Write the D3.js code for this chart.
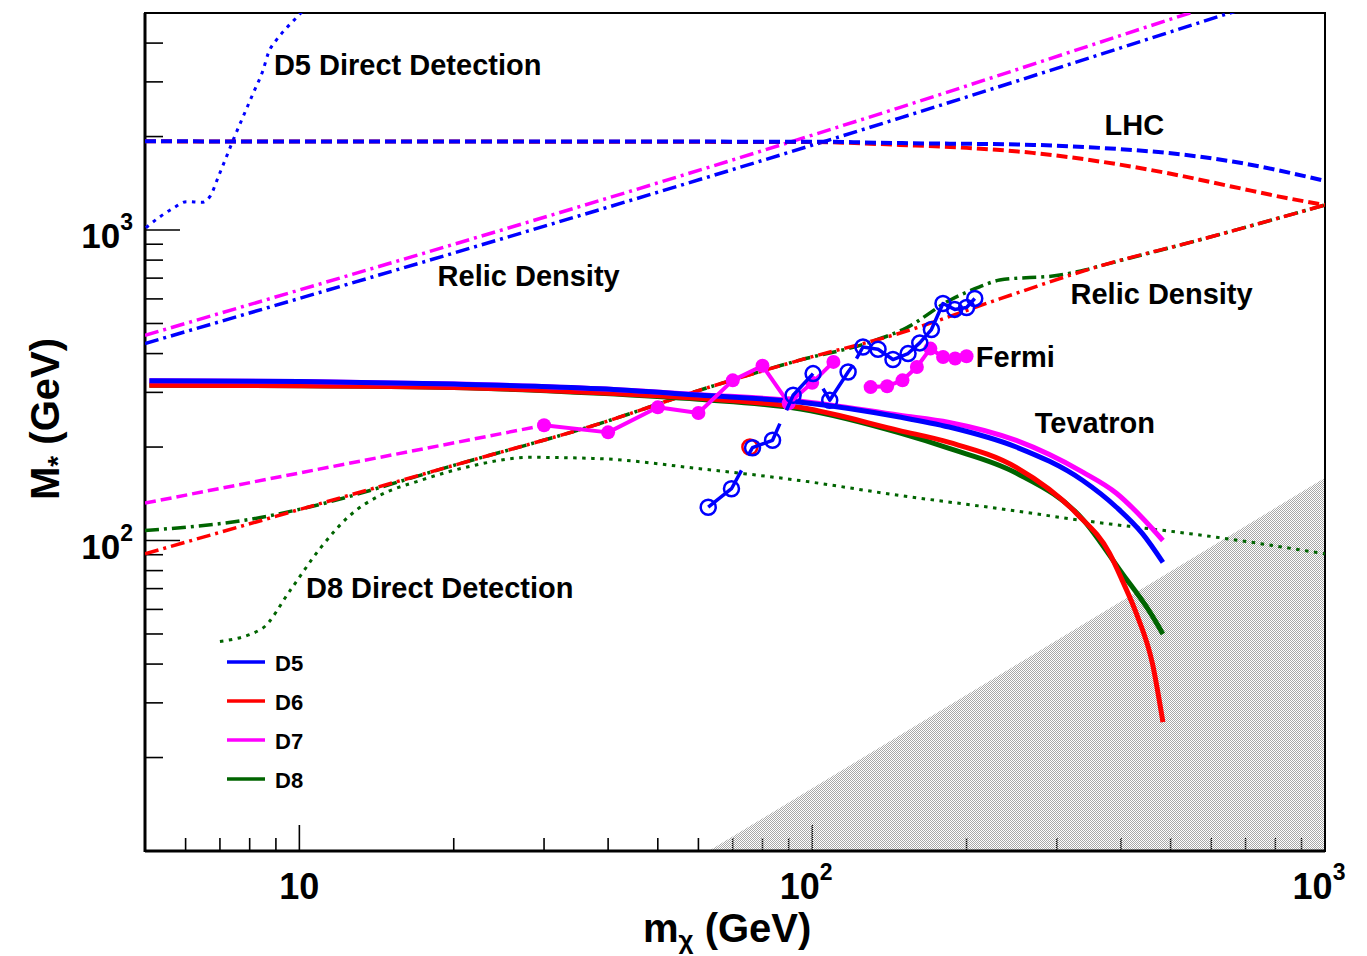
<!DOCTYPE html>
<html>
<head>
<meta charset="utf-8">
<script src="https://cdn.jsdelivr.net/npm/d3@7"></script>
<style>
  body { margin: 0; background: #fff; }
  svg { display: block; }
  text { font-family: "Liberation Sans", Arial, Helvetica, sans-serif; font-weight: bold; fill: #000; }
</style>
</head>
<body>
<svg id="chart" width="1367" height="956"></svg>
<script>
// ---------------- data: dark-matter mass m_chi (GeV) vs. suppression scale M* (GeV) ----------------

// Tevatron bounds (solid)
const tevMassD5 = [5.1, 10, 20, 38.5, 60, 95, 148, 185, 250, 337, 392, 441, 483];
const tevD5     = [327, 325, 319, 308, 294, 279, 250, 232, 200, 156, 128, 105, 85];
const tevD7     = [327, 325, 319, 308, 295, 281, 253, 240, 210, 166, 142, 118, 100];
const tevMassD6 = [5.1, 10, 20, 38.5, 60, 95, 148, 185, 250, 328, 380, 403, 429, 461, 483];
const tevD6     = [316, 315, 311, 299, 287, 268, 226, 207, 172, 122, 91, 74, 58, 40, 26];
const tevMassD8 = [5.1, 10, 20, 38.5, 60, 95, 148, 185, 250, 337, 403, 455, 483];
const tevD8     = [316, 315, 311, 298, 285, 265, 222, 198, 165, 117, 78, 59, 50];

// LHC reach (dashed)
const lhcMassD5 = [5, 100, 150, 270, 364, 491, 660, 1000];
const lhcD5     = [1930, 1925, 1905, 1880, 1839, 1772, 1662, 1440];
const lhcMassD6 = [5, 100, 148, 200, 269, 364, 491, 660, 841, 1000];
const lhcD6     = [1930, 1920, 1880, 1839, 1772, 1662, 1527, 1379, 1268, 1204];

// Relic density (dash-dot)
const relicMassD7 = [5, 148, 545, 1000];
const relicD7     = [458, 2480, 5000, 6900];
const relicMassD5 = [5, 148, 652, 1000];
const relicD5     = [431, 2293, 5000, 6260];
const relicMassD6 = [5, 10, 20, 38.5, 60.4, 94.6, 148, 232, 363, 570, 1000];
const relicD6     = [90.6, 125.8, 174.6, 238, 305, 381, 465, 600, 765, 930, 1204];
const relicMassD8 = [5, 8.4, 10, 20, 38.5, 60.4, 94.6, 130, 153, 185.5, 212, 232, 304, 342, 363, 570, 1000];
const relicD8     = [107.7, 118.6, 126, 174.6, 238, 305, 381, 436, 485, 594, 656, 690, 716, 745, 765, 930, 1204];

// D7 relic branch at low mass (dashed)
const relicLowMassD7 = [5, 30];
const relicLowD7     = [132, 235];

// Direct detection (dotted)
const ddMassD5 = [5.02, 5.35, 5.67, 6.03, 6.45, 6.69, 6.95, 7.21, 7.43, 7.77, 8.13, 8.5, 8.7, 9.03, 9.44, 9.95, 10.5];
const ddD5     = [1017, 1104, 1175, 1234, 1228, 1280, 1485, 1724, 1951, 2320, 2761, 3281, 3716, 4102, 4473, 4898, 5400];
const ddMassD8 = [7.0, 8.45, 9.59, 10.97, 12.55, 14.35, 17.18, 21.5, 28.2, 38.5, 60.4, 94.6, 148, 232, 337, 614, 1000];
const ddD8     = [47.3, 52.0, 69.0, 94.2, 120.5, 139.7, 156, 173.3, 185.3, 183.5, 170.3, 156, 139.7, 126.6, 116, 102.5, 90.6];

// Fermi (D7, filled markers) – two connected runs
const fermiMassD7a = [30, 40, 50, 60, 70, 80, 90, 100, 110];
const fermiD7a     = [235, 223, 268.5, 257.5, 328, 365.6, 276.6, 322, 376];
const fermiMassD7b = [130, 140, 150, 160, 170, 180, 190, 200];
const fermiD7b     = [312, 314, 328, 362, 415, 390, 385.5, 392];

// Fermi (D5, open markers) – connected runs (line vertices)
const fermiRunMassD5 = [
  [62.7, 69.6, 72.8],
  [75, 76.5, 83.7, 86.5],
  [89.1, 91.8, 100.4],
  [105, 108.2, 117.5, 120.1],
  [122, 125.6, 134.4, 143.7, 153.8, 162.1, 170.8, 179.9, 189.6, 200, 207.5]
];
const fermiRunD5 = [
  [128, 146.8, 168.2],
  [188, 199, 210.3, 238],
  [262.6, 293.6, 344.8],
  [308.6, 283, 349, 366.8],
  [385.6, 420, 413, 382.8, 400, 433, 478, 580, 555, 563, 602]
];
// Fermi (D5) marker positions
const fermiMassD5 = [62.7, 69.6, 76.5, 83.7, 91.8, 100.4, 108.2, 117.5, 125.6, 134.4, 143.7, 153.8, 162.1, 170.8, 179.9, 189.6, 200, 207.5];
const fermiD5     = [128, 146.8, 199, 210.3, 293.6, 344.8, 283, 349, 420, 413, 382.8, 400, 433, 478, 580, 555, 563, 602];
// Fermi (D6) open marker
const fermiMassD6 = [75.6];
const fermiD6     = [200];

// Excluded region M* < m_chi / 2pi
const hatchMass = [62.8, 1000];
const hatchM    = [10, 159.2];

// Axis ticks
const xMajor = [10, 100, 1000];
const xMinor = [6, 7, 8, 9, 20, 30, 40, 50, 60, 70, 80, 90, 200, 300, 400, 500, 600, 700, 800, 900];
const yMajor = [100, 1000];
const yMinor = [20, 30, 40, 50, 60, 70, 80, 90, 200, 300, 400, 500, 600, 700, 800, 900, 2000, 3000, 4000];
const xTickLabels = [{v: 10, base: "10", exp: ""}, {v: 100, base: "10", exp: "2"}, {v: 1000, base: "10", exp: "3"}];
const yTickLabels = [{v: 100, base: "10", exp: "2"}, {v: 1000, base: "10", exp: "3"}];

// Legend entries
const legendNames  = ["D5", "D6", "D7", "D8"];
const legendColors = ["#0000ff", "#ff0000", "#ff00ff", "#006400"];

// Annotations (placed in data coordinates)
const notes = [
  {t: "D5 Direct Detection", m: 8.92, M: 3162},
  {t: "LHC", m: 371.7, M: 2025},
  {t: "Relic Density", m: 18.6, M: 659},
  {t: "Relic Density", m: 319, M: 577},
  {t: "Fermi", m: 208.5, M: 361},
  {t: "Tevatron", m: 271.6, M: 221.4},
  {t: "D8 Direct Detection", m: 10.3, M: 65.5}
];

// ---------------- drawing ----------------
const BLUE = "#0000ff", RED = "#ff0000", MAG = "#ff00ff", GREEN = "#006400";
const L = 145, R = 1325, T = 13, B = 851;

const svg = d3.select("#chart");
const x = d3.scaleLog().domain([5, 1000]).range([L, R]);
const y = d3.scaleLog().domain([10, 5000]).range([B, T]);

const defs = svg.append("defs");
defs.append("clipPath").attr("id", "plotClip")
  .append("rect").attr("x", L).attr("y", T).attr("width", R - L).attr("height", B - T);
const pat = defs.append("pattern").attr("id", "hatch")
  .attr("width", 2).attr("height", 2).attr("patternUnits", "userSpaceOnUse");
pat.append("rect").attr("x", 0).attr("y", 0).attr("width", 1).attr("height", 1).attr("fill", "#a8a8a8");
pat.append("rect").attr("x", 1).attr("y", 1).attr("width", 1).attr("height", 1).attr("fill", "#a8a8a8");

const zip = (a, b) => a.map((v, i) => [v, b[i]]);
const smooth = d3.line().x(d => x(d[0])).y(d => y(d[1])).curve(d3.curveMonotoneX);
const straight = d3.line().x(d => x(d[0])).y(d => y(d[1]));

// ticks (under the excluded region)
const axes = svg.append("g").attr("stroke", "#000").attr("stroke-width", 1.6);
xMinor.forEach(v => axes.append("line").attr("x1", x(v)).attr("x2", x(v)).attr("y1", B).attr("y2", B - 13));
xMajor.forEach(v => axes.append("line").attr("x1", x(v)).attr("x2", x(v)).attr("y1", B).attr("y2", B - 26));
yMinor.forEach(v => axes.append("line").attr("x1", L).attr("x2", L + 18).attr("y1", y(v)).attr("y2", y(v)));
yMajor.forEach(v => axes.append("line").attr("x1", L).attr("x2", L + 35).attr("y1", y(v)).attr("y2", y(v)));

// excluded region
const hatchPts = [[hatchMass[0], hatchM[0]], [hatchMass[1], hatchM[1]], [hatchMass[1], hatchM[0]]];
svg.append("path")
  .attr("d", "M" + hatchPts.map(p => [x(p[0]), y(p[1])].join(",")).join("L") + "Z")
  .attr("fill", "url(#hatch)");

// frame
svg.append("rect").attr("x", L).attr("y", T).attr("width", R - L).attr("height", B - T)
  .attr("fill", "none").attr("stroke", "#000").attr("stroke-width", 2);
svg.append("line").attr("x1", L).attr("x2", L).attr("y1", T).attr("y2", B + 1)
  .attr("stroke", "#000").attr("stroke-width", 3);
svg.append("line").attr("x1", L).attr("x2", R).attr("y1", B).attr("y2", B)
  .attr("stroke", "#000").attr("stroke-width", 3);

const plot = svg.append("g").attr("clip-path", "url(#plotClip)").attr("fill", "none");

function curve(mass, vals, color, width, dash, gen) {
  plot.append("path")
    .attr("d", (gen || smooth)(zip(mass, vals)))
    .attr("stroke", color).attr("stroke-width", width)
    .attr("stroke-dasharray", dash || null)
    .attr("stroke-linejoin", "round");
}

const DASH = "11,5", DOTDASH = "14,5,3,5", DOT = "3.5,5.5";

// direct detection
curve(ddMassD8, ddD8, GREEN, 3, DOT);
curve(ddMassD5, ddD5, BLUE, 3, DOT);

// relic density
curve(relicMassD7, relicD7, MAG, 3.5, DOTDASH);
curve(relicMassD5, relicD5, BLUE, 3.5, DOTDASH);
curve(relicMassD8, relicD8, GREEN, 3.5, DOTDASH);
curve(relicMassD6, relicD6, RED, 3.5, DOTDASH);
curve(relicLowMassD7, relicLowD7, MAG, 3.5, DASH, straight);

// LHC
curve(lhcMassD6, lhcD6, RED, 4, DASH);
curve(lhcMassD5, lhcD5, BLUE, 4, DASH);

// Tevatron
curve(tevMassD8, tevD8, GREEN, 5);
curve(tevMassD6, tevD6, RED, 5);
curve(tevMassD5, tevD7, MAG, 5);
curve(tevMassD5, tevD5, BLUE, 5);

// Fermi D7 (filled)
[[fermiMassD7a, fermiD7a], [fermiMassD7b, fermiD7b]].forEach(([ms, vs]) => {
  curve(ms, vs, MAG, 4, null, straight);
  plot.selectAll(null).data(zip(ms, vs)).enter().append("circle")
    .attr("cx", d => x(d[0])).attr("cy", d => y(d[1])).attr("r", 7)
    .attr("fill", MAG).attr("stroke", "none");
});

// Fermi D6 / D5 (open)
plot.selectAll(null).data(zip(fermiMassD6, fermiD6)).enter().append("circle")
  .attr("cx", d => x(d[0])).attr("cy", d => y(d[1])).attr("r", 7.5)
  .attr("fill", "none").attr("stroke", RED).attr("stroke-width", 2.5);
fermiRunMassD5.forEach((ms, i) => curve(ms, fermiRunD5[i], BLUE, 3.5, null, straight));
plot.selectAll(null).data(zip(fermiMassD5, fermiD5)).enter().append("circle")
  .attr("cx", d => x(d[0])).attr("cy", d => y(d[1])).attr("r", 7.5)
  .attr("fill", "none").attr("stroke", BLUE).attr("stroke-width", 2.5);

// annotations
notes.forEach(n => svg.append("text").attr("x", x(n.m)).attr("y", y(n.M))
  .attr("font-size", 29).text(n.t));

// legend
legendNames.forEach((name, i) => {
  const yy = 662 + i * 39;
  svg.append("line").attr("x1", 227).attr("x2", 265).attr("y1", yy).attr("y2", yy)
    .attr("stroke", legendColors[i]).attr("stroke-width", 3.5);
  svg.append("text").attr("x", 275).attr("y", yy + 8.5).attr("font-size", 22).text(name);
});

// tick labels
xTickLabels.forEach(d => {
  const t = svg.append("text").attr("x", x(d.v) - (d.exp ? 6 : 0)).attr("y", 899)
    .attr("text-anchor", "middle").attr("font-size", 36);
  t.append("tspan").text(d.base);
  if (d.exp) t.append("tspan").attr("dy", -19).attr("font-size", 23).text(d.exp);
});
yTickLabels.forEach(d => {
  const t = svg.append("text").attr("x", 133).attr("y", y(d.v) + 18)
    .attr("text-anchor", "end").attr("font-size", 35);
  t.append("tspan").text(d.base);
  t.append("tspan").attr("dy", -18).attr("font-size", 23).text(d.exp);
});

// axis titles
const xt = svg.append("text").attr("x", 643).attr("y", 942).attr("font-size", 40);
xt.append("tspan").text("m");
xt.append("tspan").attr("dy", 7).attr("font-size", 26).text("χ");
xt.append("tspan").attr("dy", -7).text(" (GeV)");

const yt = svg.append("text").attr("transform", "translate(59,419) rotate(-90)")
  .attr("text-anchor", "middle").attr("font-size", 40);
yt.append("tspan").text("M");
yt.append("tspan").attr("dy", 8).attr("font-size", 28).text("*");
yt.append("tspan").attr("dy", -8).text(" (GeV)");
</script>
</body>
</html>
